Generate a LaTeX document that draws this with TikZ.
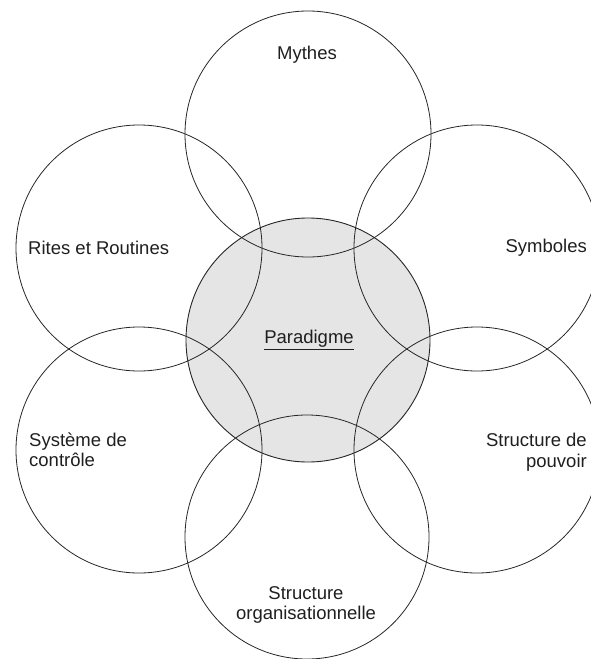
\documentclass[tikz,border=0pt]{standalone}
\usepackage{fontspec}
\setmainfont{Liberation Sans}
\begin{document}
\begin{tikzpicture}[x=1pt,y=-1pt,
  ring/.style={draw=black!85, line width=0.8pt},
  core/.style={draw=black!85, line width=0.9pt, fill=black!10},
  label/.style={text=black!88, font=\fontsize{18.5}{20.5}\selectfont, inner sep=0pt}]
  \useasboundingbox (0,0) rectangle (591,659);
  \clip (0,0) rectangle (591,659);
  % central paradigm disc
  \node[core, circle, minimum size=244pt, inner sep=0pt] (par) at (308,340) {};
  % surrounding elements
  \node[ring, circle, minimum size=246pt, inner sep=0pt] (myt) at (308,134) {};
  \node[ring, circle, minimum size=246pt, inner sep=0pt] (rit) at (139,248) {};
  \node[ring, circle, minimum size=246pt, inner sep=0pt] (sym) at (477,248) {};
  \node[ring, circle, minimum size=246pt, inner sep=0pt] (ctl) at (139,450) {};
  \node[ring, circle, minimum size=246pt, inner sep=0pt] (pow) at (477,450) {};
  \node[ring, circle, minimum size=244pt, inner sep=0pt] (org) at (307,537) {};
  % labels
  \node[label] (tpar) at (309,340) {\underline{Paradigme}};
  \node[label] (tmyt) at (307,55) {Mythes};
  \node[label, anchor=west] (trit) at (28,248) {Rites et Routines};
  \node[label, anchor=east] (tsym) at (587,248) {Symboles};
  \node[label, anchor=west, align=left] (tctl) at (29,450) {Système de\\contrôle};
  \node[label, anchor=east, align=right] (tpow) at (587,452) {Structure de\\pouvoir};
  \node[label, align=center] (torg) at (306,605) {Structure\\organisationnelle};
\end{tikzpicture}
\end{document}
